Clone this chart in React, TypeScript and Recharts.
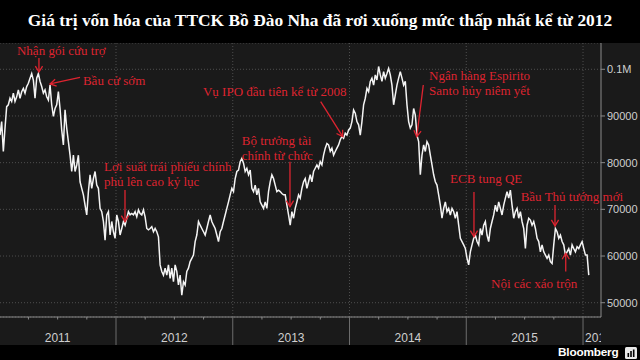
import React from 'react';
import {
  ComposedChart,
  Line,
  XAxis,
  YAxis,
  CartesianGrid,
  ReferenceLine,
  ReferenceDot,
} from 'recharts';

// ---------------- data (market cap, thousands) ----------------
const VALUES_A = [
  85.9, 88.8, 82.4, 87.4, 92.0, 92.4, 93.8, 93.1, 94.9, 93.1, 94.1, 95.6, 93.8, 95.2, 95.9, 94.9,
  96.3, 97.0, 98.1, 99.1, 97.7, 93.8, 98.1, 99.1, 97.4, 96.3, 94.9, 95.6, 94.1, 93.4, 96.6, 92.4,
  89.9, 91.6, 92.4, 95.2, 91.6, 87.0, 83.8, 91.3, 87.4, 84.5, 81.6, 78.1, 81.6, 78.1, 79.5, 81.6,
  75.9, 74.5, 73.1, 70.9, 68.8, 73.8, 77.4, 74.5, 76.6, 78.1, 75.2, 74.5, 70.2, 69.5, 67.4, 63.4,
  68.8, 69.5, 64.5, 67.4, 65.2, 63.8, 68.8, 67.4,
];
const VALUES_B = [
  64.5, 65.9, 67.4, 66.6, 68.1, 69.5, 68.8, 69.1, 68.8, 69.5, 68.4, 69.9, 69.1, 68.8, 69.9, 68.4,
  65.9, 65.6, 65.9, 66.3, 65.2, 65.9, 65.2, 64.1, 58.1, 56.7, 55.9, 57.4, 55.9, 58.1, 55.2, 57.4,
  54.5, 58.1, 56.7, 53.8, 55.9, 51.6, 54.5, 53.8, 56.7, 57.4, 58.8, 59.5, 60.2, 63.1, 64.5, 67.4,
  66.6, 65.9, 65.2, 64.5, 65.9, 67.4, 68.8, 67.4, 66.6, 65.9, 64.5, 63.1, 65.2, 65.9, 67.4, 68.8,
  70.2, 71.6, 73.1, 74.5, 73.8, 76.6, 78.1, 78.4,
];
const VALUES_C = [
  80.2, 80.9, 79.9, 78.1, 78.8, 77.4, 78.4, 74.5, 73.8, 75.2, 73.1, 74.5, 71.6, 70.9, 70.2, 71.6,
  70.2, 73.8, 75.9, 77.4, 76.6, 75.2, 73.8, 74.1, 73.8, 73.4, 73.1, 73.1, 70.9, 68.8, 66.6, 69.5,
  68.1, 70.2, 71.6, 73.1, 72.4, 74.5, 75.9, 76.6, 74.5, 75.9, 77.4, 75.9, 78.1, 78.8, 79.5, 78.8,
  80.2, 79.5, 81.6, 83.1, 84.1, 83.8, 82.4, 83.1, 81.6, 82.4, 83.1, 83.8, 84.9, 85.6, 85.2, 86.3,
  85.9, 87.0, 87.4, 88.8, 91.3, 90.6, 88.8, 88.1,
];
const VALUES_D = [
  85.9, 88.8, 92.4, 93.8, 95.9, 95.2, 97.4, 98.1, 96.6, 98.8, 97.7, 100.6, 98.8, 97.4, 99.5, 98.1,
  99.1, 100.2, 98.8, 96.6, 92.4, 94.5, 96.6, 98.1, 99.5, 98.1, 96.6, 97.4, 92.4, 88.8, 87.4, 88.1,
  91.6, 90.2, 85.9, 84.5, 77.4, 81.6, 83.8, 82.4, 84.5, 83.8, 81.6, 79.5, 77.4, 75.9, 75.2, 73.1,
  70.9, 68.1, 70.2, 71.6, 69.5, 70.2, 68.8, 70.2, 69.5, 68.1, 69.5, 66.6, 63.8, 63.1, 62.4, 61.6,
  59.5, 58.1, 60.9, 62.4, 63.8, 64.5, 63.1, 62.4,
];
const VALUES_E = [
  65.9, 64.5, 66.6, 67.4, 64.5, 63.1, 65.9, 67.4, 68.8, 70.9, 69.5, 71.6, 70.2, 68.8, 70.9, 72.4,
  73.8, 72.4, 74.1, 70.9, 68.1, 69.5, 70.2, 68.1, 69.5, 67.4, 65.9, 61.6, 66.6, 68.1, 67.7, 66.6,
  67.4, 65.9, 63.8, 63.1, 60.9, 62.4, 60.9, 60.2, 59.5, 60.2, 58.8, 58.4, 62.4, 65.9, 65.2, 63.8,
  64.5, 63.1, 62.4, 60.2, 60.9, 61.6, 60.2, 62.4, 61.6, 60.9, 62.0, 61.6, 62.4, 63.1, 61.6, 60.2,
  60.2, 55.9,
];
const VALUES = [...VALUES_A, ...VALUES_B, ...VALUES_C, ...VALUES_D, ...VALUES_E];

const T_START = 2011.0064; // first sample (start of Jan 2011)
const SAMPLES_PER_YEAR = 70; // ~weekly sampling
const X_DOMAIN: [number, number] = [2011.0064, 2016.154];
const Y_DOMAIN: [number, number] = [46.94, 105.63];

const YEARS = [2011, 2012, 2013, 2014, 2015, 2016];
const YEAR_LABELS = ['2011', '2012', '2013', '2014', '2015', '2016'];
const Y_TICKS = [50, 60, 70, 80, 90, 100];

const TITLE = 'Giá trị vốn hóa của TTCK Bồ Đào Nha đã rơi xuống mức thấp nhất kể từ 2012';

type Note = { lines: string[]; t: number; v: number; from: [number, number]; to: [number, number] };
const NOTES: Note[] = [
  { lines: ['Nhận gói cứu trợ'], t: 2011.152, v: 104.0, from: [2011.34, 102.4], to: [2011.34, 99.4] },
  { lines: ['Bầu cử sớm'], t: 2011.717, v: 97.56, from: [2011.692, 98.29], to: [2011.435, 96.85] },
  { lines: ['Lợi suất trái phiếu chính', 'phủ lên cao kỷ lục'], t: 2011.897, v: 79.14, from: [2012.077, 74.15], to: [2012.077, 67.37] },
  { lines: ['Vụ IPO đầu tiên kể từ 2008'], t: 2012.745, v: 95.2, from: [2013.753, 93.06], to: [2013.942, 85.57] },
  { lines: ['Bộ trưởng tài', 'chính từ chức'], t: 2013.077, v: 84.86, from: [2013.49, 80.21], to: [2013.49, 70.58] },
  { lines: ['Ngân hàng Espirito', 'Santo hủy niêm yết'], t: 2014.681, v: 98.63, from: [2014.632, 96.64], to: [2014.576, 85.57] },
  { lines: ['ECB tung QE'], t: 2014.861, v: 76.66, from: [2015.066, 73.73], to: [2015.066, 64.15] },
  { lines: ['Bầu Thủ tướng mới'], t: 2015.466, v: 72.72, from: [2015.76, 70.94], to: [2015.76, 66.45] },
  { lines: ['Nội các xáo trộn'], t: 2015.212, v: 54.03, from: [2015.852, 56.66], to: [2015.852, 60.6] },
];

// ---------------- styling ----------------
const W = 640;
const CHART_TOP = 43;
const CHART_H = 302;
const Y_AXIS_W = 39;
const X_AXIS_H = 28;
const PLOT_RIGHT = W - Y_AXIS_W;
const BG = '#1a1a1a';
const RED = '#de2430';
const AXIS = '#8a8a8a';
const GRID = '#4e4e4e';
const LABEL = '#cfcfcf';

const data = VALUES.map((v, i) => ({ t: T_START + i / SAMPLES_PER_YEAR, v }));

const X_TICKS: number[] = [];
YEARS.forEach((y) => {
  [0, 0.25, 0.5, 0.75].forEach((q) => {
    const t = y + q;
    if (t > X_DOMAIN[0] && t < X_DOMAIN[1]) X_TICKS.push(t);
  });
});

const XTick = (props: any) => {
  const { x, y, payload } = props;
  const val: number = payload.value;
  const year = Math.floor(val + 1e-6);
  const frac = val - year;
  const isYear = frac < 1e-6;
  const isMid = Math.abs(frac - 0.5) < 1e-6;
  const idx = YEARS.indexOf(year);
  return (
    <g>
      {isYear ? (
        <line x1={x} x2={x} y1={y} y2={y + X_AXIS_H} stroke="#6c6c6c" strokeWidth={1} />
      ) : (
        <line x1={x} x2={x} y1={y} y2={y + 2.5} stroke={AXIS} strokeWidth={1} />
      )}
      {isMid && idx >= 0 && (
        <text x={x} y={y + 25} textAnchor="middle" fill={LABEL} fontSize={12} fontFamily="Liberation Sans, Arial, sans-serif">
          {YEAR_LABELS[idx]}
        </text>
      )}
      {isYear && idx === YEARS.length - 1 && (
        <svg x={x + 2} y={y} width={Math.max(0, PLOT_RIGHT - x - 2)} height={X_AXIS_H} overflow="hidden">
          <text x={0} y={25} textAnchor="start" fill={LABEL} fontSize={12} fontFamily="Liberation Sans, Arial, sans-serif">
            {YEAR_LABELS[idx]}
          </text>
        </svg>
      )}
    </g>
  );
};

const arrowShape = (p: any) => {
  const { x1, y1, x2, y2 } = p;
  const dx = x2 - x1;
  const dy = y2 - y1;
  const len = Math.hypot(dx, dy) || 1;
  const ux = dx / len;
  const uy = dy / len;
  const hl = 6;
  const hw = 3.6;
  const bx = x2 - ux * hl;
  const by = y2 - uy * hl;
  const px = -uy;
  const py = ux;
  return (
    <g>
      <line x1={x1} y1={y1} x2={x2} y2={y2} stroke={RED} strokeWidth={1.3} />
      <polyline
        points={`${bx + px * hw},${by + py * hw} ${x2},${y2} ${bx - px * hw},${by - py * hw}`}
        fill="none"
        stroke={RED}
        strokeWidth={1.3}
      />
    </g>
  );
};

const noteText = (lines: string[]) => (p: any) => (
  <g>
    {lines.map((l, i) => (
      <text
        key={i}
        x={p.cx}
        y={p.cy + i * 15}
        dy="0.35em"
        fill={RED}
        fontSize={13}
        fontFamily="Liberation Serif, 'Times New Roman', serif"
      >
        {l}
      </text>
    ))}
  </g>
);

export default function App() {
  return (
    <div style={{ position: 'fixed', left: 0, top: 0, width: W, height: 360, background: '#000', overflow: 'hidden' }}>
      <div
        style={{
          position: 'absolute',
          left: 0,
          top: 11,
          width: W,
          textAlign: 'center',
          color: '#fff',
          fontFamily: "'Liberation Serif', 'Times New Roman', serif",
          fontWeight: 'bold',
          fontSize: 17.4,
          lineHeight: '18px',
          whiteSpace: 'nowrap',
        }}
      >
        {TITLE}
      </div>
      <div style={{ position: 'absolute', left: 0, top: CHART_TOP, width: W, height: CHART_H, background: BG }}>
        <ComposedChart width={W} height={CHART_H} data={data} margin={{ top: 0, right: 0, bottom: 0, left: 0 }}>
          <CartesianGrid vertical={false} stroke={GRID} strokeDasharray="1 2" />
          {YEARS.slice(1).map((y) => (
            <ReferenceLine key={y} x={y} stroke={GRID} strokeDasharray="1 2" />
          ))}
          <XAxis
            dataKey="t"
            type="number"
            domain={X_DOMAIN}
            allowDataOverflow
            ticks={X_TICKS}
            interval={0}
            height={X_AXIS_H}
            tickLine={false}
            tickSize={0}
            tickMargin={0}
            axisLine={{ stroke: AXIS }}
            tick={<XTick />}
          />
          <YAxis
            orientation="right"
            type="number"
            domain={Y_DOMAIN}
            allowDataOverflow
            ticks={Y_TICKS}
            width={Y_AXIS_W}
            tickSize={4}
            tickMargin={2}
            axisLine={{ stroke: AXIS }}
            tickLine={{ stroke: AXIS }}
            tick={{ fill: LABEL, fontSize: 11, fontFamily: 'Liberation Sans, Arial, sans-serif' }}
            tickFormatter={(v: number) => (v >= 100 ? '0.1M' : String(Math.round(v * 1000)))}
          />
          <Line
            type="linear"
            dataKey="v"
            stroke="#f4f4f4"
            strokeWidth={1.5}
            dot={false}
            isAnimationActive={false}
          />
          {NOTES.map((n, i) => (
            <ReferenceLine
              key={'a' + i}
              segment={[
                { x: n.from[0], y: n.from[1] },
                { x: n.to[0], y: n.to[1] },
              ]}
              shape={arrowShape}
            />
          ))}
          {NOTES.map((n, i) => (
            <ReferenceDot key={'t' + i} x={n.t} y={n.v} r={0} shape={noteText(n.lines)} />
          ))}
        </ComposedChart>
      </div>
      <div
        style={{
          position: 'absolute',
          left: 558,
          top: 345,
          height: 15,
          lineHeight: '15px',
          color: '#fff',
          fontFamily: "'Liberation Sans', Arial, sans-serif",
          fontWeight: 'bold',
          fontSize: 11.8,
          letterSpacing: -0.2,
          whiteSpace: 'nowrap',
        }}
      >
        Bloomberg
      </div>
      <svg style={{ position: 'absolute', left: 625, top: 347 }} width={12} height={12}>
        <rect x={0} y={0} width={12} height={12} rx={1.5} fill="#e8e8e8" />
        <rect x={2.5} y={6} width={1.6} height={4} fill="#000" />
        <rect x={5.2} y={4} width={1.6} height={6} fill="#000" />
        <rect x={7.9} y={2.5} width={1.6} height={7.5} fill="#000" />
      </svg>
    </div>
  );
}
